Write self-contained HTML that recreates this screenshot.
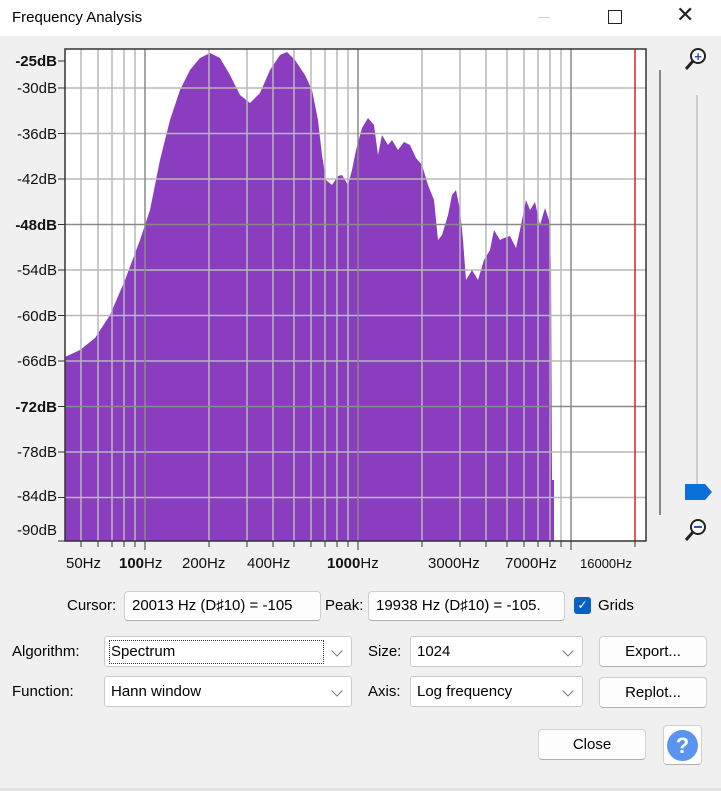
<!DOCTYPE html>
<html><head><meta charset="utf-8"><style>
body{margin:0;width:721px;height:791px;background:#f0f0f0;font-family:"Liberation Sans",sans-serif;position:relative;overflow:hidden;font-size:15px;color:#000}
.a{position:absolute}
.box{position:absolute;background:#fff;border:1px solid #ccc;border-radius:3px;box-sizing:border-box;font-size:15px;padding:0 6px;line-height:29px}
.btn{position:absolute;background:#fdfdfd;border:1px solid #d0d0d0;border-bottom-color:#b0b0b0;border-radius:4px;box-sizing:border-box;text-align:center;font-size:15px}
.chev{position:absolute;right:10px;top:10px;width:7px;height:7px;border-right:1px solid #777;border-bottom:1px solid #777;transform:rotate(45deg)}
</style></head><body>
<div class="a" style="left:0;top:0;width:721px;height:36px;background:#fff"></div>
<div class="a" style="left:12px;top:9px;font-size:15px">Frequency Analysis</div>
<div class="a" style="left:538px;top:17px;width:12px;border-top:1px solid #ccc"></div>
<div class="a" style="left:608px;top:10px;width:12px;height:12px;border:1.5px solid #222"></div>
<div class="a" style="left:676px;top:2px;font-size:22px;color:#222">✕</div>
<svg class="a" style="left:0;top:36px" width="721" height="560" viewBox="0 36 721 560">
<rect x="65" y="49" width="581" height="492" fill="#fff"/>
<polygon fill="#8a3dbf" points="65,541 65,357 80,350 95,338 110,315 125,280 140,240 150,210 160,160 170,120 180,90 190,70 200,58 210,53 220,58 230,75 240,95 250,103 260,93 270,70 280,55 287,52 295,60 305,75 312,90 318,120 322,155 326,180 332,185 338,176 342,175 348,185 352,170 356,150 362,128 368,118 374,125 378,155 382,135 388,145 392,140 398,150 404,142 410,145 416,158 422,165 428,185 434,200 438,240 442,235 448,215 452,195 456,190 460,210 463,240 466,280 472,270 478,280 484,260 490,250 494,230 500,240 504,238 510,236 516,248 520,230 526,200 530,210 535,202 540,225 545,208 549,220 551,265 552,480 554,480 554,541"/>
<g stroke="#b8b8b8" stroke-width="1.5">
<line x1="81" y1="49" x2="81" y2="541"/><line x1="98" y1="49" x2="98" y2="541"/><line x1="112" y1="49" x2="112" y2="541"/><line x1="124" y1="49" x2="124" y2="541"/><line x1="135" y1="49" x2="135" y2="541"/>
<line x1="209" y1="49" x2="209" y2="541"/><line x1="247" y1="49" x2="247" y2="541"/><line x1="273" y1="49" x2="273" y2="541"/><line x1="294" y1="49" x2="294" y2="541"/><line x1="311" y1="49" x2="311" y2="541"/><line x1="325" y1="49" x2="325" y2="541"/><line x1="337" y1="49" x2="337" y2="541"/><line x1="348" y1="49" x2="348" y2="541"/>
<line x1="422" y1="49" x2="422" y2="541"/><line x1="460" y1="49" x2="460" y2="541"/><line x1="486" y1="49" x2="486" y2="541"/><line x1="507" y1="49" x2="507" y2="541"/><line x1="524" y1="49" x2="524" y2="541"/><line x1="538" y1="49" x2="538" y2="541"/><line x1="550" y1="49" x2="550" y2="541"/><line x1="561" y1="49" x2="561" y2="541"/>
<line x1="65" y1="88" x2="646" y2="88"/><line x1="65" y1="133.5" x2="646" y2="133.5"/><line x1="65" y1="179" x2="646" y2="179"/><line x1="65" y1="270" x2="646" y2="270"/><line x1="65" y1="315.5" x2="646" y2="315.5"/><line x1="65" y1="361" x2="646" y2="361"/><line x1="65" y1="452" x2="646" y2="452"/><line x1="65" y1="497.5" x2="646" y2="497.5"/>
</g>
<g stroke="#8a8a8a" stroke-width="1.5">
<line x1="145" y1="49" x2="145" y2="541"/><line x1="358" y1="49" x2="358" y2="541"/><line x1="571" y1="49" x2="571" y2="541"/>
<line x1="65" y1="224.5" x2="646" y2="224.5"/><line x1="65" y1="406.5" x2="646" y2="406.5"/>
</g>
<line x1="635" y1="49" x2="635" y2="541" stroke="#e02020" stroke-width="1.5"/>
<rect x="65" y="49" width="581" height="492" fill="none" stroke="#333" stroke-width="1.5"/>
<g stroke="#333" stroke-width="1">
<line x1="58" y1="61" x2="65" y2="61"/><line x1="58" y1="88" x2="65" y2="88"/><line x1="58" y1="133.5" x2="65" y2="133.5"/><line x1="58" y1="179" x2="65" y2="179"/><line x1="58" y1="224.5" x2="65" y2="224.5"/><line x1="58" y1="270" x2="65" y2="270"/><line x1="58" y1="315.5" x2="65" y2="315.5"/><line x1="58" y1="361" x2="65" y2="361"/><line x1="58" y1="406.5" x2="65" y2="406.5"/><line x1="58" y1="452" x2="65" y2="452"/><line x1="58" y1="497.5" x2="65" y2="497.5"/><line x1="58" y1="541" x2="65" y2="541"/>
<line x1="81" y1="541" x2="81" y2="547"/><line x1="98" y1="541" x2="98" y2="547"/><line x1="112" y1="541" x2="112" y2="547"/><line x1="124" y1="541" x2="124" y2="547"/><line x1="135" y1="541" x2="135" y2="547"/><line x1="145" y1="541" x2="145" y2="550"/><line x1="209" y1="541" x2="209" y2="547"/><line x1="247" y1="541" x2="247" y2="547"/><line x1="273" y1="541" x2="273" y2="547"/><line x1="294" y1="541" x2="294" y2="547"/><line x1="311" y1="541" x2="311" y2="547"/><line x1="325" y1="541" x2="325" y2="547"/><line x1="337" y1="541" x2="337" y2="547"/><line x1="348" y1="541" x2="348" y2="547"/><line x1="358" y1="541" x2="358" y2="550"/><line x1="422" y1="541" x2="422" y2="547"/><line x1="460" y1="541" x2="460" y2="547"/><line x1="486" y1="541" x2="486" y2="547"/><line x1="507" y1="541" x2="507" y2="547"/><line x1="524" y1="541" x2="524" y2="547"/><line x1="538" y1="541" x2="538" y2="547"/><line x1="550" y1="541" x2="550" y2="547"/><line x1="561" y1="541" x2="561" y2="547"/><line x1="571" y1="541" x2="571" y2="550"/><line x1="635" y1="541" x2="635" y2="547"/>
</g>
<g font-family="Liberation Sans" font-size="15" text-anchor="end" fill="#111">
<text x="57" y="66" font-weight="bold">-25dB</text><text x="57" y="93">-30dB</text><text x="57" y="139">-36dB</text><text x="57" y="184">-42dB</text><text x="57" y="230" font-weight="bold">-48dB</text><text x="57" y="275">-54dB</text><text x="57" y="321">-60dB</text><text x="57" y="366">-66dB</text><text x="57" y="412" font-weight="bold">-72dB</text><text x="57" y="457">-78dB</text><text x="57" y="501">-84dB</text><text x="57" y="535">-90dB</text>
</g>
<g font-family="Liberation Sans" font-size="15" fill="#111">
<text x="66" y="568">50Hz</text><text x="119" y="568"><tspan font-weight="bold">100</tspan>Hz</text><text x="182" y="568">200Hz</text><text x="247" y="568">400Hz</text><text x="327" y="568"><tspan font-weight="bold">1000</tspan>Hz</text><text x="428" y="568">3000Hz</text><text x="505" y="568">7000Hz</text><text x="580" y="568" font-size="13">16000Hz</text>
</g>
<line x1="660" y1="70" x2="660" y2="515" stroke="#888" stroke-width="2"/>
<line x1="697" y1="95" x2="697" y2="490" stroke="#ccc" stroke-width="2"/>
<polygon points="685,484 705,484 712,492 705,500 685,500" fill="#0a6fd8"/>
<circle cx="698" cy="56" r="7" fill="#fff" stroke="#222" stroke-width="2"/><line x1="693" y1="61" x2="686" y2="69" stroke="#222" stroke-width="3"/><text x="698" y="61" font-size="13" text-anchor="middle" fill="#2a4fc0" font-weight="bold">+</text>
<circle cx="698" cy="527" r="7" fill="#fff" stroke="#222" stroke-width="2"/><line x1="693" y1="532" x2="686" y2="540" stroke="#222" stroke-width="3"/><line x1="694" y1="527" x2="702" y2="527" stroke="#2a4fc0" stroke-width="2"/>
</svg>
<div class="a" style="left:67px;top:597px">Cursor:</div>
<div class="btn" style="left:124px;top:591px;width:197px;height:30px;line-height:28px;text-align:left;padding-left:7px;white-space:nowrap;overflow:hidden">20013 Hz (D♯10) = -105</div>
<div class="a" style="left:325px;top:597px">Peak:</div>
<div class="btn" style="left:368px;top:591px;width:197px;height:30px;line-height:28px;text-align:left;padding-left:7px;white-space:nowrap;overflow:hidden">19938 Hz (D♯10) = -105.</div>
<div class="a" style="left:574px;top:597px;width:17px;height:17px;background:#0a5fc4;border-radius:3px;color:#fff;font-size:12px;text-align:center;line-height:17px">✓</div>
<div class="a" style="left:598px;top:597px">Grids</div>
<div class="a" style="left:12px;top:643px">Algorithm:</div>
<div class="box" style="left:104px;top:636px;width:248px;height:31px">Spectrum<span class="chev"></span></div>
<div class="a" style="left:109px;top:640px;width:213px;height:22px;border:1px dotted #333"></div>
<div class="a" style="left:12px;top:683px">Function:</div>
<div class="box" style="left:104px;top:676px;width:248px;height:31px">Hann window<span class="chev"></span></div>
<div class="a" style="left:368px;top:643px">Size:</div>
<div class="box" style="left:410px;top:636px;width:173px;height:31px">1024<span class="chev"></span></div>
<div class="a" style="left:368px;top:683px">Axis:</div>
<div class="box" style="left:410px;top:676px;width:173px;height:31px">Log frequency<span class="chev"></span></div>
<div class="btn" style="left:599px;top:636px;width:108px;height:31px;line-height:29px">Export...</div>
<div class="btn" style="left:599px;top:677px;width:108px;height:31px;line-height:29px">Replot...</div>
<div class="btn" style="left:538px;top:729px;width:108px;height:31px;line-height:29px">Close</div>
<div class="btn" style="left:663px;top:725px;width:39px;height:40px"><div style="margin:4px auto;width:31px;height:31px;border-radius:50%;background:#5a93f0;color:#fff;font-size:22px;line-height:31px;font-weight:bold">?</div></div>
<div class="a" style="left:0;top:788px;width:721px;height:3px;background:#e2e2e2"></div>
</body></html>
